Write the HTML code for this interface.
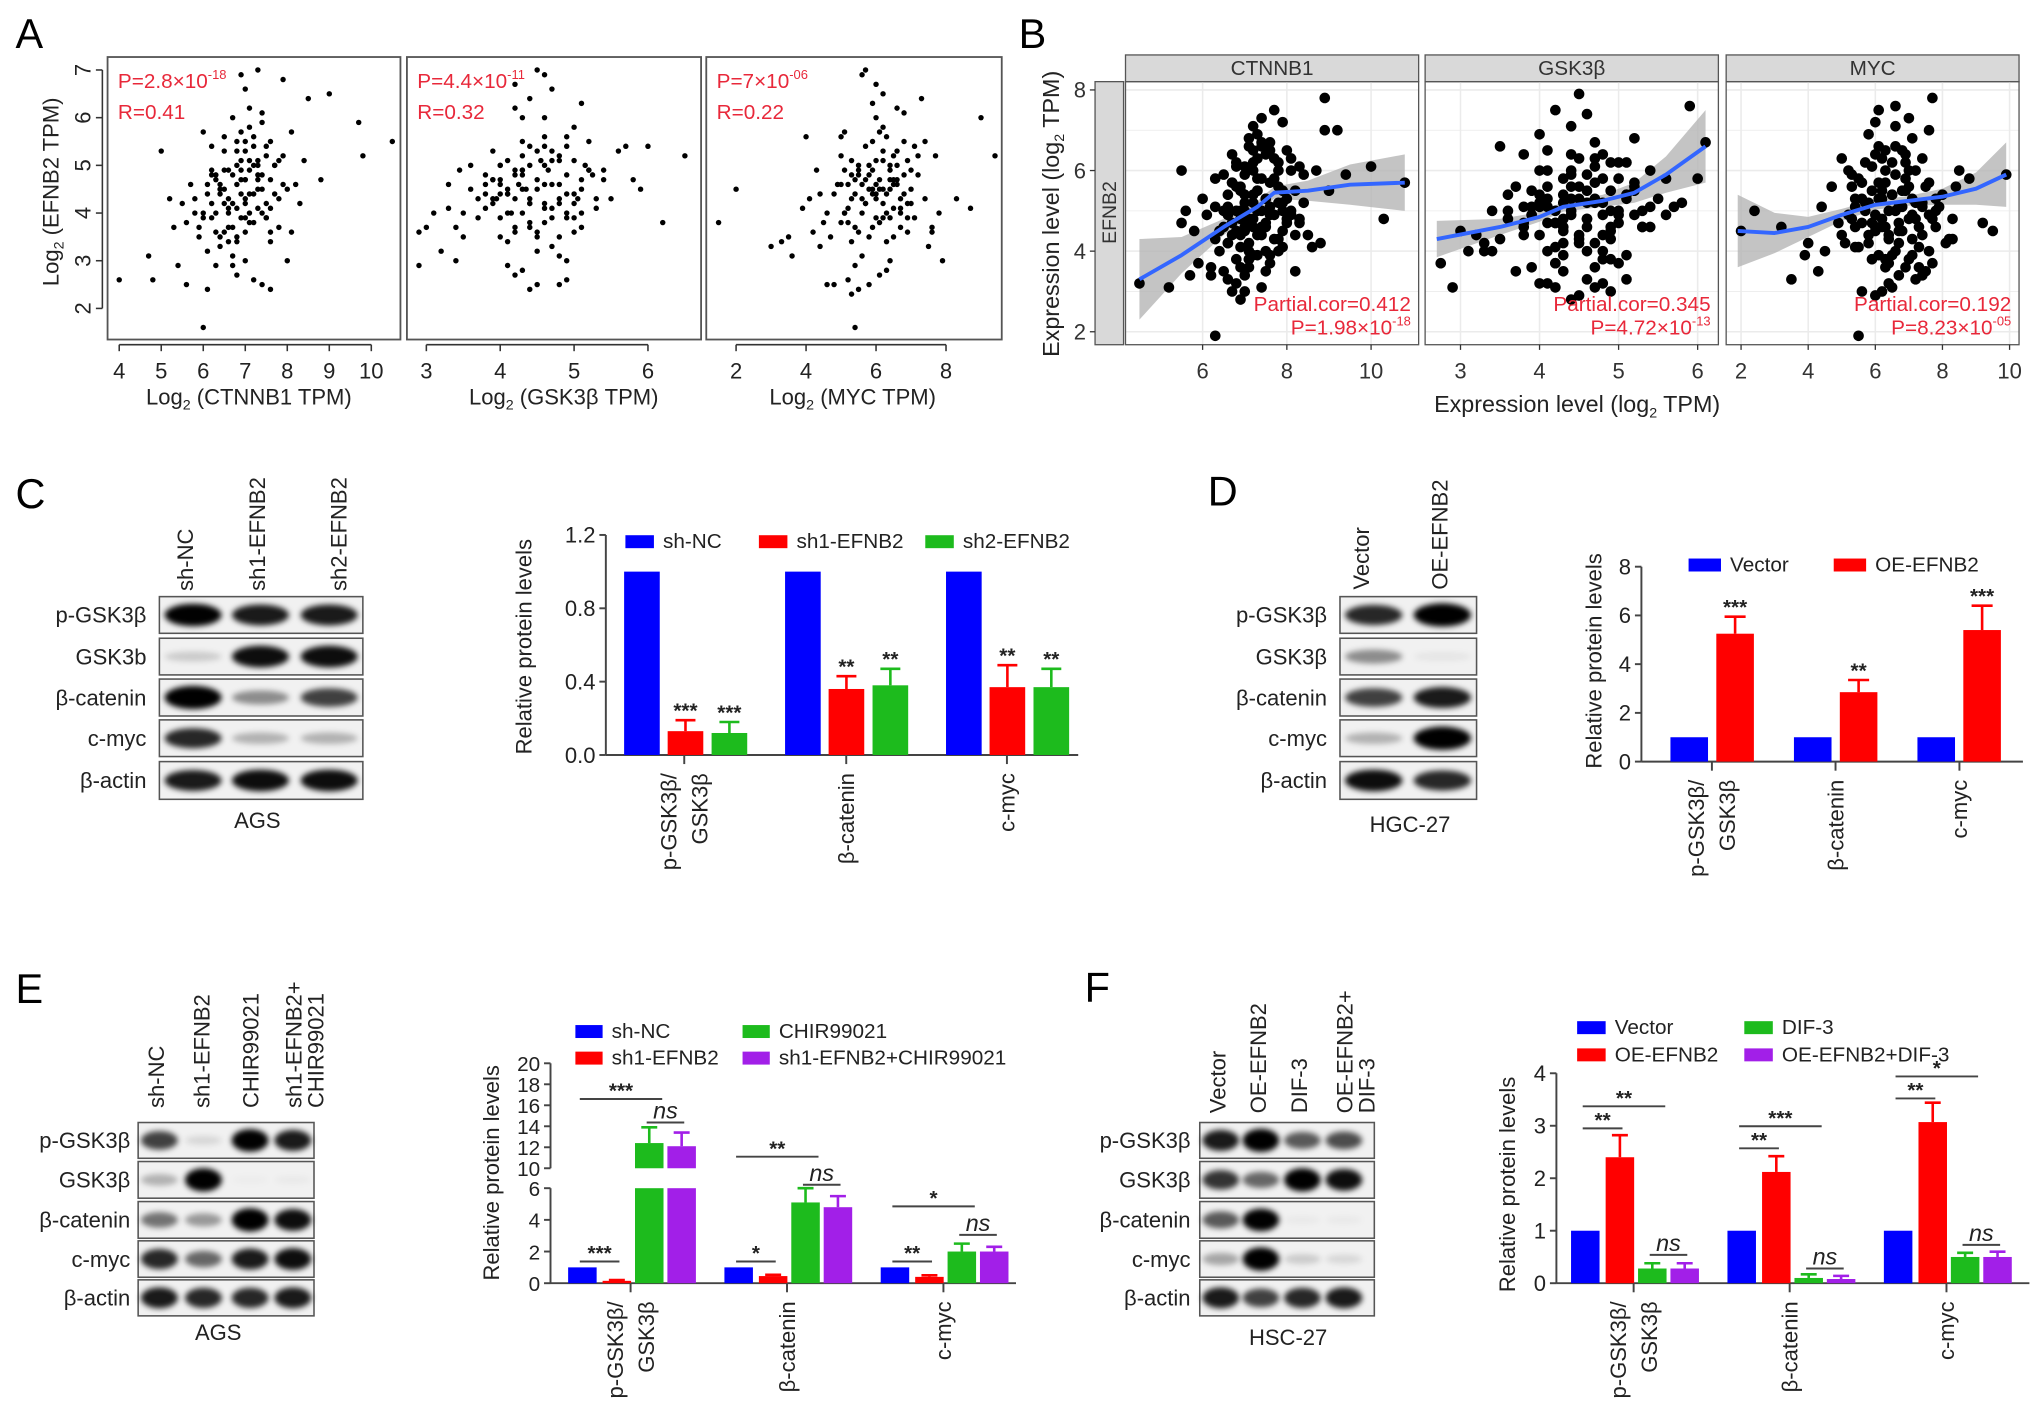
<!DOCTYPE html>
<html><head><meta charset="utf-8"><title>Figure</title>
<style>
html,body{margin:0;padding:0;background:#fff;}
svg{display:block;font-family:"Liberation Sans",Arial,sans-serif;}
</style></head>
<body>
<svg id="fig" width="2032" height="1422" viewBox="0 0 1568 1097.3" preserveAspectRatio="none" xmlns="http://www.w3.org/2000/svg">
<defs>
<filter id="blur" x="-50%" y="-50%" width="200%" height="200%"><feGaussianBlur stdDeviation="2.2"/></filter>
</defs>
</svg>
<script>
// ===== DATA =====
const a1X=[6.8,7.1,6.5,7.3,6.9,7.6,6.2,7.0,6.6,7.4,5.9,7.2,6.7,7.8,6.4,7.0,6.1,7.5,6.8,7.3,6.3,7.7,6.9,5.8,7.1,6.6,8.0,6.0,7.4,6.5,7.2,6.8,7.9,6.2,7.0,6.7,7.6,5.6,6.9,7.3,6.4,8.1,6.6,7.1,5.7,7.5,6.3,7.0,6.8,7.8,6.1,7.2,6.5,7.4,6.9,5.5,7.7,6.7,7.0,6.2,8.2,6.6,7.3,5.9,7.1,6.4,7.6,6.8,8.3,6.0,7.4,5.3,6.7,7.9,4.7,6.9,7.2,4.8,8.4,5.0,6.3,9.0,5.2,7.5,9.7,4.0,10.5,5.6,8.0,6.0,9.8,7.0,8.5,6.1,8.8,7.6,5.4,8.1,6.5,7.3,
6.6,7.0,7.3,6.8,7.5,6.4,7.1,6.9,7.7,6.2,7.2,6.7,7.4,6.5,7.0,6.3,7.6,6.8,7.1,6.0,7.3,6.6,7.9,6.4,7.0,6.9,7.5,6.1,7.2,6.7,7.8,6.5,7.4,6.3,7.1,5.8,6.8,7.6,6.2,7.0];
const a1Y=[4.6,4.9,4.2,5.1,4.4,4.7,3.9,5.3,4.0,4.5,3.7,5.6,4.8,4.3,4.4,3.9,4.6,5.4,5.0,4.1,3.6,5.0,4.7,4.3,5.8,3.4,4.5,4.0,5.9,4.9,3.8,3.5,5.2,5.4,4.3,6.0,3.6,3.8,5.1,4.8,3.3,5.7,4.1,6.2,4.6,4.2,4.8,3.0,5.5,3.7,3.2,4.4,5.3,6.1,3.9,4.2,5.0,2.9,6.6,4.9,4.6,3.7,5.0,3.5,4.0,4.5,3.4,2.7,4.2,5.7,2.5,3.7,3.1,6.8,3.1,6.9,2.6,2.6,5.1,5.3,2.9,6.5,4.3,3.9,5.9,2.6,5.5,2.5,3.0,1.6,5.2,4.7,6.4,2.4,4.7,2.4,2.9,3.6,5.6,7.0,
4.3,4.7,4.5,4.1,5.2,4.6,3.8,4.9,4.4,4.2,5.0,3.7,4.8,4.5,5.5,4.0,4.1,5.3,4.4,3.9,4.7,4.9,4.6,3.5,4.2,5.7,3.9,4.4,5.4,4.2,5.1,3.6,4.0,4.7,5.1,4.0,3.4,5.5,4.8,3.6];
const a2X=[4.5,4.2,4.8,4.0,4.6,5.0,4.3,4.7,3.9,4.4,5.1,4.1,4.9,4.6,3.8,4.3,5.2,4.5,4.0,4.8,3.7,4.4,5.0,4.2,4.7,3.6,4.9,4.3,5.3,4.1,4.6,3.9,5.1,4.4,4.8,3.5,4.2,5.4,4.5,4.0,4.7,3.8,5.0,4.3,4.9,3.4,4.6,5.2,4.1,4.4,3.7,4.8,5.5,4.2,3.3,4.5,5.0,3.9,4.7,3.2,5.3,4.3,3.6,4.9,3.1,5.6,4.0,4.6,3.0,5.1,4.4,2.9,5.8,4.2,3.5,5.7,4.8,6.0,3.4,6.5,4.5,6.2,3.3,5.9,2.9,4.1,5.4,4.4,3.45,4.9,5.25,3.8,4.35,5.05,4.15,4.65,3.95,4.55,5.15,4.25,
4.4,4.7,4.1,4.9,4.3,4.6,4.0,5.1,4.5,4.2,4.8,3.9,4.6,5.0,4.3,4.7,4.1,4.4,5.2,3.8,4.5,4.9,4.2,4.6,4.0,4.8,4.3,5.0,4.5,4.1,4.7,3.9,4.4,4.9,4.2,4.6,5.1,4.3,4.8,4.0];
const a2Y=[4.5,4.8,4.2,4.6,5.0,4.4,4.0,5.3,4.3,3.8,4.7,5.1,3.9,4.6,4.1,5.5,4.9,3.6,4.4,5.2,3.9,4.3,5.8,3.7,4.1,4.5,5.6,4.9,4.3,3.4,6.0,4.7,3.7,5.4,3.5,4.0,6.2,4.9,3.2,5.0,3.3,4.8,5.1,6.0,3.0,3.7,4.2,5.5,2.9,6.4,4.3,3.1,4.3,2.7,4.6,2.5,3.6,5.3,6.6,3.2,4.1,2.8,5.0,2.6,4.0,5.3,3.5,6.9,3.7,6.3,2.4,2.9,4.7,6.7,3.5,5.4,2.5,5.4,3.0,5.2,7.0,3.8,4.1,4.5,3.6,4.4,4.7,4.2,4.9,4.4,4.8,4.6,4.5,4.3,4.0,4.9,4.3,5.1,5.0,4.6,
4.2,4.6,4.4,4.0,4.9,3.8,5.0,4.5,5.3,3.6,4.3,4.7,5.6,3.9,4.8,5.1,4.0,3.7,4.9,4.4,4.7,5.4,4.9,4.1,3.9,4.6,5.2,4.2,3.5,4.5,3.9,4.2,5.0,4.8,4.3,5.4,4.0,4.5,5.1,4.7];
const a3X=[6.0,5.6,6.4,5.2,6.8,5.8,6.2,5.4,6.6,5.0,7.0,5.9,6.3,4.8,6.1,5.5,7.2,5.7,6.5,4.6,6.9,5.3,6.0,7.4,5.1,6.7,4.4,5.9,7.6,6.2,4.9,5.6,7.1,6.4,4.3,7.8,5.4,6.0,4.7,6.6,7.5,5.2,4.1,6.3,7.7,5.0,5.8,4.5,7.3,6.1,3.9,5.5,7.9,6.8,4.2,5.7,3.6,6.5,7.4,4.0,5.3,3.3,6.9,5.1,3.0,7.6,4.8,5.6,3.5,6.2,8.3,4.6,5.9,8.7,5.0,2.0,6.4,9.4,1.5,5.4,9.0,5.2,6.6,4.4,7.0,5.8,6.1,5.5,6.3,6.7,5.7,6.0,6.5,5.3,6.9,5.1,6.2,5.9,7.1,6.4,
5.8,6.2,5.5,6.6,6.0,5.3,6.4,5.7,6.8,5.1,6.1,5.9,6.5,5.4,6.3,7.0,5.6,6.7,5.2,6.0,6.9,5.5,6.2,5.8,6.4,5.0,6.6,5.7,6.1,7.2,5.3,6.5,5.9,6.3,5.6,6.8,6.0,5.4,6.2,6.7];
const a3Y=[4.6,4.3,4.9,4.1,4.4,5.0,3.9,4.7,5.3,3.8,4.5,5.5,4.0,4.4,5.7,3.6,4.8,4.2,3.5,4.0,5.1,3.4,6.0,4.3,4.9,3.7,3.3,6.3,3.6,5.8,4.6,3.1,5.4,3.0,4.9,4.0,2.9,6.7,3.5,6.2,3.3,2.6,4.3,2.8,5.2,5.6,2.5,3.8,6.4,2.7,4.1,2.4,3.0,6.1,3.6,7.0,3.1,4.7,5.5,5.6,2.3,3.4,3.9,5.7,3.3,3.7,2.5,6.9,3.5,6.5,4.3,2.5,4.5,4.1,5.2,4.5,5.0,5.2,3.8,1.6,6.0,4.6,4.7,4.4,4.2,4.8,4.5,4.9,4.4,4.1,4.7,4.3,4.6,4.8,4.2,4.0,5.1,4.4,3.9,4.5,
4.5,4.2,4.8,4.6,5.1,4.3,3.9,5.4,4.8,4.0,4.7,3.7,5.2,4.4,5.6,4.9,4.0,4.3,3.8,4.4,3.6,5.0,5.3,3.5,4.7,4.6,5.0,4.2,3.8,5.2,5.1,4.1,4.9,3.4,4.6,5.5,3.9,3.7,4.5,4.0];
const aStatP=["2.8×10","4.4×10","7×10"];
const aStatExp=["-18","-11","-06"];
const aStatR=["0.41","0.32","0.22"];
const aXTicks1=[4,5,6,7,8,9,10];
const aXTicks2=[3,4,5,6];
const aXTicks3=[2,4,6,8];
const aYTicks=[2,3,4,5,6,7];

const b1X=[7.2,7.5,6.9,7.8,7.1,7.4,6.7,8.0,7.3,6.6,7.6,7.0,8.2,6.8,7.7,7.2,6.5,7.9,7.4,6.9,8.1,7.1,6.4,7.6,7.3,8.3,6.7,7.0,7.8,6.3,7.5,8.0,6.8,7.2,6.6,7.9,8.4,6.2,7.4,7.1,6.9,8.5,6.5,7.7,6.1,7.3,8.2,6.8,7.0,8.6,6.0,7.6,6.4,7.8,5.9,8.8,7.2,6.6,8.1,5.8,7.5,6.3,8.9,7.0,5.7,7.4,8.3,6.7,5.6,7.1,7.9,6.2,5.5,7.6,8.7,6.9,5.5,6.3,9.0,5.2,4.5,9.4,10.0,10.3,10.8,8.9,9.2,6.3,7.3,7.7,8.4,7.0,6.6,8.0,7.3,6.8,7.5,7.1,7.8,6.9,7.4,7.2,8.1,6.5,7.6,7.0,7.3,6.7,7.9,7.2,
7.0,7.4,6.8,7.7,7.2,6.6,7.9,7.1,7.5,6.9,8.1,7.3,6.7,7.6,7.0,8.0,6.5,7.4,7.8,7.2,6.8,7.5,7.1,8.2,6.9,7.3,7.7,6.6,7.0,7.9,7.4,6.8,7.6,7.2,8.3,6.7,7.1,7.5,6.9,7.8];
const b1Y=[5.2,4.6,5.0,5.6,4.2,5.8,4.7,5.3,3.9,5.4,4.9,6.1,4.4,3.8,6.3,4.8,5.9,4.1,6.6,4.4,5.0,3.6,4.5,5.7,6.9,4.7,6.4,3.4,6.0,5.1,4.0,6.5,3.2,7.1,4.2,5.5,5.9,3.6,3.1,6.8,5.6,4.4,3.5,7.5,4.9,5.0,3.5,6.2,3.0,4.1,5.3,6.7,4.0,4.3,3.7,4.2,6.5,3.3,6.3,4.5,3.5,5.8,7.0,4.6,3.4,7.3,6.1,3.0,5.0,3.8,7.2,3.4,4.7,3.9,6.0,2.8,6.0,1.9,5.5,3.1,3.2,5.9,6.1,4.8,5.7,7.8,7.0,4.3,5.5,4.9,5.2,5.0,5.1,4.7,5.8,4.5,5.3,4.8,5.2,5.5,4.6,5.4,4.9,4.6,5.1,5.2,4.4,5.7,5.0,6.0,
4.5,5.0,5.6,4.3,6.2,4.9,5.2,3.8,6.4,4.1,6.0,5.5,4.4,3.7,5.9,4.8,5.0,6.7,4.0,4.6,6.1,5.3,4.0,5.5,3.6,6.3,5.8,4.2,5.4,4.5,4.4,5.0,6.5,3.9,4.8,5.7,6.6,4.7,4.8,6.2];
const b2X=[4.4,4.6,4.2,4.8,4.0,4.5,4.7,4.3,4.9,4.1,4.6,3.9,5.0,4.4,4.2,5.1,3.8,4.7,4.5,5.2,4.0,4.3,4.8,3.7,5.3,4.6,4.1,4.9,3.6,5.0,4.4,5.4,3.9,4.2,5.1,3.5,4.7,5.5,4.0,4.5,3.4,5.2,4.8,3.8,4.3,5.6,3.3,4.6,5.0,3.7,4.1,5.3,3.2,4.9,5.7,3.6,4.4,3.1,5.4,4.2,3.0,5.8,4.7,3.5,5.1,2.9,6.0,4.0,2.75,3.4,5.9,5.6,4.5,3.8,4.3,4.9,3.6,5.2,6.1,3.3,4.6,4.1,4.8,4.4,4.0,4.7,4.3,5.0,4.5,3.9,4.2,4.8,4.6,5.1,4.1,4.4,3.8,4.9,4.3,4.7,
4.3,4.6,4.1,4.9,4.4,3.9,4.7,5.2,4.2,4.5,5.0,3.8,4.8,4.3,5.3,4.0,4.6,5.1,4.4,4.9,4.1,4.7,5.4,4.2,4.5,3.9,5.0,4.8,4.3,4.6,4.0,5.2,4.4,4.7,4.1,5.1,4.5,4.9,4.2,4.8];
const b2Y=[5.0,5.5,4.7,5.8,5.2,4.3,6.1,5.4,4.6,4.0,5.9,5.1,4.9,6.4,3.7,5.3,4.4,6.7,4.2,5.7,6.0,3.5,4.4,5.6,5.0,3.3,6.5,3.8,4.8,6.2,7.1,4.6,3.6,7.5,3.9,4.3,3.1,5.3,6.9,2.9,5.0,6.8,3.2,6.4,4.2,5.8,4.0,7.4,3.7,3.5,3.2,4.6,4.4,3.0,5.1,5.4,2.8,4.0,6.0,3.1,4.5,5.2,6.3,6.6,3.3,3.1,5.8,3.2,3.7,4.0,7.6,4.9,7.9,4.6,5.2,5.5,5.0,5.6,6.7,4.2,4.8,5.3,4.9,5.6,5.1,5.2,4.5,4.7,5.3,4.9,5.0,5.2,4.8,5.4,4.7,4.9,5.1,5.0,4.6,5.3,
4.8,5.2,5.6,4.5,6.0,4.9,4.2,5.5,4.1,6.3,5.0,4.7,3.8,5.8,4.6,5.4,4.0,6.2,5.3,4.3,6.0,5.7,5.1,3.7,4.4,5.5,5.8,6.4,3.9,4.6,4.4,4.9,5.9,3.6,5.1,5.4,5.6,6.2,4.7,4.0];
const b3X=[6.4,6.8,6.0,7.2,5.8,6.6,7.0,6.2,7.4,5.6,6.5,7.6,6.1,5.4,6.9,7.8,6.3,5.9,7.1,5.2,6.7,8.0,6.0,7.3,5.5,6.4,8.2,5.7,7.5,6.6,5.0,7.0,8.3,6.2,5.3,7.7,6.8,4.9,7.2,5.8,8.4,6.5,5.1,7.9,6.1,4.7,7.4,5.6,6.9,4.5,8.1,6.3,5.4,7.6,4.3,6.7,8.5,5.0,7.1,4.0,6.0,7.8,5.3,3.9,6.6,8.3,4.4,7.3,5.8,3.5,6.2,8.8,5.2,7.0,3.2,6.4,9.2,5.5,7.7,9.5,2.0,2.4,6.3,7.6,5.4,6.1,9.9,5.9,6.8,6.5,7.2,5.7,6.9,6.2,6.6,7.1,6.0,6.7,6.3,7.4,
6.3,6.7,5.9,7.1,6.5,5.6,6.9,6.1,7.4,5.3,6.6,7.7,6.0,6.4,7.2,5.8,6.8,7.5,5.5,6.2,7.0,6.6,5.7,7.3,6.1,7.8,6.4,5.4,6.9,7.1,6.0,6.5,7.6,5.9,6.3,7.0,5.6,6.7,7.4,6.2];
const b3Y=[5.0,5.5,4.6,5.2,4.2,5.9,4.8,6.3,4.4,5.3,3.9,5.7,6.6,4.6,3.6,5.0,6.0,3.8,6.8,4.9,3.4,5.4,7.2,4.1,5.8,3.2,4.3,6.2,3.5,7.6,4.4,6.0,4.8,3.0,5.6,3.7,6.5,4.7,3.3,6.9,5.6,3.1,4.2,5.1,7.5,5.6,3.4,3.0,6.4,4.0,4.2,3.8,5.3,7.0,3.5,4.5,6.0,6.3,3.9,4.2,2.9,4.6,4.8,3.9,7.1,4.3,5.1,3.6,5.2,3.3,5.5,5.8,6.0,7.3,4.6,4.4,4.7,1.9,7.8,4.5,4.5,5.0,6.5,4.9,4.1,5.3,5.9,4.7,5.1,5.4,4.8,5.2,5.5,4.6,5.0,5.3,4.9,4.7,5.7,5.1,
4.6,5.1,5.5,4.3,6.2,4.7,5.8,3.9,5.2,5.9,4.0,4.8,6.4,3.7,6.0,4.4,4.5,5.6,4.1,5.3,3.8,6.6,5.0,4.6,5.7,5.3,4.3,5.1,6.2,4.9,4.5,5.4,4.0,6.1,3.6,5.6,5.7,4.2,6.3,4.8];
const b1FitX=[4.5,5.5,6.5,7.3,7.7,8.5,9.5,10.8];
const b1FitY=[3.3,3.9,4.6,5.1,5.45,5.5,5.65,5.7];
const b1FitSe=[1.0,0.45,0.2,0.15,0.15,0.25,0.5,0.7];
const b2FitX=[2.7,3.5,4.0,4.3,4.8,5.2,5.6,6.1];
const b2FitY=[4.3,4.6,4.85,5.1,5.25,5.45,5.9,6.6];
const b2FitSe=[0.45,0.2,0.12,0.12,0.15,0.25,0.45,0.9];
const b3FitX=[1.9,3,4,5,6,7,8,9,9.9];
const b3FitY=[4.5,4.45,4.6,4.9,5.15,5.25,5.35,5.55,5.9];
const b3FitSe=[0.9,0.5,0.25,0.15,0.12,0.12,0.2,0.4,0.8];
const bGenes=["CTNNB1","GSK3β","MYC"];
const bCor=["0.412","0.345","0.192"];
const bPval=["1.98×10","4.72×10","8.23×10"];
const bPexp=["-18","-13","-05"];
const bXTicks1=[6,8,10];
const bXTicks2=[3,4,5,6];
const bXTicks3=[2,4,6,8,10];
const bYTicks=[2,4,6,8];

const rowLabelsC=["p-GSK3β","GSK3b","β-catenin","c-myc","β-actin"];
const rowLabels=["p-GSK3β","GSK3β","β-catenin","c-myc","β-actin"];
const blotC=[[0.95,0.85,0.85],[0.15,0.9,0.9],[1,0.4,0.7],[0.8,0.25,0.25],[0.85,0.9,0.9]];
const blotD=[[0.8,1],[0.4,0.05],[0.7,0.85],[0.25,1],[0.9,0.8]];
const blotE=[[0.7,0.1,0.95,0.85],[0.25,1,0.02,0.03],[0.5,0.35,1,0.9],[0.8,0.55,0.85,0.9],[0.85,0.8,0.8,0.85]];
const blotF=[[0.85,1,0.6,0.65],[0.75,0.55,1,0.9],[0.6,0.95,0.03,0.03],[0.3,1,0.15,0.1],[0.85,0.7,0.8,0.85]];

const groupNames=["p-GSK3β/|GSK3β","β-catenin","c-myc"];
const cSeries=["sh-NC","sh1-EFNB2","sh2-EFNB2"];
const cValues=[[1,1,1],[0.13,0.36,0.37],[0.12,0.38,0.37]];
const cErrors=[[0,0,0],[0.06,0.07,0.12],[0.06,0.09,0.1]];
const cStars=[["","",""],["***","**","**"],["***","**","**"]];
const cTicks=[0,0.4,0.8,1.2];
const dSeries=["Vector","OE-EFNB2"];
const dValues=[[1,1,1],[5.25,2.85,5.4]];
const dErrors=[[0,0,0],[0.7,0.5,1.0]];
const dStars=[["","",""],["***","**","***"]];
const dTicks=[0,2,4,6,8];
const eSeries=["sh-NC","sh1-EFNB2","CHIR99021","sh1-EFNB2+CHIR99021"];
const eValues=[[1,1,1],[0.15,0.45,0.4],[12.4,5.1,2.0],[12.1,4.8,2.0]];
const eErrors=[[0,0,0],[0.05,0.08,0.1],[1.5,0.9,0.5],[1.3,0.7,0.3]];
const eTicksLow=[0,2,4,6];
const eTicksHigh=[10,12,14,16,18,20];
const eBrackets=[[0,0,1,1.37,"***"],[0,0,2,16.6,"***"],[0,2,3,14.36,"ns"],[1,0,1,1.37,"*"],[1,0,2,11.1,"**"],[1,2,3,6.7,"ns"],[2,0,1,1.37,"**"],[2,0,2,4.85,"*"],[2,2,3,3.05,"ns"]];
const fSeries=["Vector","OE-EFNB2","DIF-3","OE-EFNB2+DIF-3"];
const fValues=[[1,1,1],[2.4,2.12,3.07],[0.28,0.1,0.5],[0.28,0.08,0.5]];
const fErrors=[[0,0,0],[0.42,0.3,0.37],[0.1,0.07,0.08],[0.1,0.06,0.1]];
const fTicks=[0,1,2,3,4];
const fBrackets=[[0,0,1,2.95,"**"],[0,0,2,3.37,"**"],[0,2,3,0.54,"ns"],[1,0,1,2.57,"**"],[1,0,2,2.99,"***"],[1,2,3,0.28,"ns"],[2,0,1,3.52,"**"],[2,0,2,3.94,"*"],[2,2,3,0.73,"ns"]];

// ===== HELPERS =====
const NS='http://www.w3.org/2000/svg';
const svg=document.getElementById('fig');
const COLORS=["#0000ff","#ff0000","#1dbb1d","#a21fe8"];
function mk(tag,attrs,parent){const e=document.createElementNS(NS,tag);for(const k in attrs)e.setAttribute(k,attrs[k]);(parent||svg).appendChild(e);return e;}
function grp(name){const g=mk('g',{});return g;}
function tx(p,str,x,y,o){const e=mk('text',Object.assign({x:x,y:y,'font-size':16,fill:'#222'},o||{}),p);e.innerHTML=str;return e;}
function rtx(p,str,x,y,o){const e=tx(p,str,x,y,Object.assign({transform:'rotate(-90 '+x+' '+y+')'},o||{}));return e;}
function ln(p,x1,y1,x2,y2,st,w){return mk('line',{x1:x1,y1:y1,x2:x2,y2:y2,stroke:st||'#333','stroke-width':w||1.3},p);}

[["A",12,37],["B",786,37],["C",12,392],["D",932,390],["E",12,774],["F",837,773]].forEach(function(L){
  const t=tx(svg,L[0],L[1],L[2],{'font-size':32,fill:'#000'});
  
  
});

// ===== PANEL A =====
(function(){
  const g=grp('panel-a-scatter');
  const yA=v=>238-(v-2)*36.8;
  const boxes=[[83,309],[314,541],[545,773]];
  const xs=[v=>92+(v-4)*32.42, v=>329+(v-3)*57, v=>568+(v-2)*27];
  const dX=[a1X,a2X,a3X], dY=[a1Y,a2Y,a3Y];
  const ticks=[aXTicks1,aXTicks2,aXTicks3];
  const titles=["Log<tspan font-size='11' dy='4'>2</tspan><tspan dy='-4'> (CTNNB1 TPM)</tspan>","Log<tspan font-size='11' dy='4'>2</tspan><tspan dy='-4'> (GSK3β TPM)</tspan>","Log<tspan font-size='11' dy='4'>2</tspan><tspan dy='-4'> (MYC TPM)</tspan>"];
  const tcx=[192,435,658];
  for(let i=0;i<3;i++){
    const b=mk('rect',{x:boxes[i][0],y:44,width:boxes[i][1]-boxes[i][0],height:218,fill:'none',stroke:'#555','stroke-width':1.4},g);
    
    
    const n=Math.min(dX[i].length,dY[i].length);
    for(let k=0;k<n;k++){
      const c=mk('circle',{cx:xs[i](dX[i][k]),cy:yA(dY[i][k]),r:2.1,fill:'#000'},g);
      
      
    }
    const ax=ln(g,xs[i](ticks[i][0]),266,xs[i](ticks[i][ticks[i].length-1]),266,'#333',1.2);
    
    
    ticks[i].forEach(function(t){
      ln(g,xs[i](t),266,xs[i](t),271,'#333',1.2);
      const tl=tx(g,String(t),xs[i](t),292,{'font-size':17,'text-anchor':'middle'});
      
      
    });
    const xt=tx(g,titles[i],tcx[i],312,{'font-size':17,'text-anchor':'middle'});
    
    
    const s1=tx(g,"P="+aStatP[i]+"<tspan font-size='10' dy='-7'>"+aStatExp[i]+"</tspan>",boxes[i][0]+8,68,{'font-size':16,fill:'#e8283a'});
    
    
    const s2=tx(g,"R="+aStatR[i],boxes[i][0]+8,92,{'font-size':16,fill:'#e8283a'});
    
    
  }
  const ya=ln(g,79,yA(2),79,yA(7),'#333',1.2);
  
  
  aYTicks.forEach(function(t){
    ln(g,74,yA(t),79,yA(t),'#333',1.2);
    const tl=rtx(g,String(t),70,yA(t),{'font-size':17,'text-anchor':'middle'});
    
    
  });
  const yt=rtx(g,"Log<tspan font-size='11' dy='4'>2</tspan><tspan dy='-4'> (EFNB2 TPM)</tspan>",45,148,{'font-size':17,'text-anchor':'middle'});
  
  
})();

// ===== PANEL B =====
(function(){
  const g=grp('panel-b-correlation');
  const yB=v=>256-(v-2)*31.1;
  const pans=[[868.5,1094.7],[1099.7,1326],[1332,1558]];
  const xs=[v=>928+(v-6)*32.5, v=>1127+(v-3)*61, v=>1343.5+(v-2)*25.9];
  const dX=[b1X,b2X,b3X], dY=[b1Y,b2Y,b3Y];
  const fX=[b1FitX,b2FitX,b3FitX], fY=[b1FitY,b2FitY,b3FitY], fS=[b1FitSe,b2FitSe,b3FitSe];
  const ticks=[bXTicks1,bXTicks2,bXTicks3];
  const ls=mk('rect',{x:845,y:63,width:22,height:203,fill:'#d9d9d9',stroke:'#555','stroke-width':1},g);
  
  
  const lst=rtx(g,"EFNB2",861,164,{'font-size':15,'text-anchor':'middle',fill:'#333'});
  
  
  for(let i=0;i<3;i++){
    const x0=pans[i][0],x1=pans[i][1];
    const st=mk('rect',{x:x0,y:42.4,width:x1-x0,height:20.6,fill:'#d9d9d9',stroke:'#555','stroke-width':1},g);
    
    
    const stt=tx(g,bGenes[i],(x0+x1)/2,58,{'font-size':16,'text-anchor':'middle',fill:'#333'});
    
    
    const clipId='clipB'+i;
    const cp=mk('clipPath',{id:clipId},g);
    mk('rect',{x:x0,y:63,width:x1-x0,height:203},cp);
    const pg=mk('g',{'clip-path':'url(#'+clipId+')'},g);
    for(let v=2;v<=8;v+=1){ln(pg,x0,yB(v),x1,yB(v),'#ebebeb',v%2===0?1.2:0.6);}
    ticks[i].forEach(function(t){ln(pg,xs[i](t),63,xs[i](t),266,'#ebebeb',1.2);});
    let up=[],dn=[];
    for(let k=0;k<fX[i].length;k++){up.push(xs[i](fX[i][k])+','+yB(fY[i][k]+fS[i][k]));dn.unshift(xs[i](fX[i][k])+','+yB(fY[i][k]-fS[i][k]));}
    const rb=mk('polygon',{points:up.concat(dn).join(' '),fill:'#b5b5b5','fill-opacity':0.8},pg);
    
    
    const n=Math.min(dX[i].length,dY[i].length);
    for(let k=0;k<n;k++){
      const c=mk('circle',{cx:xs[i](dX[i][k]),cy:yB(dY[i][k]),r:4.1,fill:'#000'},pg);
      
      
    }
    let d='';
    for(let k=0;k<fX[i].length;k++){d+=(k?' L':'M')+xs[i](fX[i][k])+' '+yB(fY[i][k]);}
    const fl=mk('path',{d:d,fill:'none',stroke:'#3366ff','stroke-width':3,'stroke-linejoin':'round'},pg);
    
    
    const bx=mk('rect',{x:x0,y:63,width:x1-x0,height:203,fill:'none',stroke:'#555','stroke-width':1},g);
    
    
    ticks[i].forEach(function(t){
      ln(g,xs[i](t),266,xs[i](t),270,'#333',1);
      const tl=tx(g,String(t),xs[i](t),292,{'font-size':17,'text-anchor':'middle',fill:'#333'});
      
      
    });
    const a1=tx(g,"Partial.cor="+bCor[i],x1-6,240,{'font-size':16,'text-anchor':'end',fill:'#e8283a'});
    
    
    const a2=tx(g,"P="+bPval[i]+"<tspan font-size='10' dy='-7'>"+bPexp[i]+"</tspan>",x1-6,258,{'font-size':16,'text-anchor':'end',fill:'#e8283a'});
    
    
  }
  bYTicks.forEach(function(t){
    ln(g,841,yB(t),845,yB(t),'#333',1);
    const tl=tx(g,String(t),838,yB(t)+6,{'font-size':17,'text-anchor':'end',fill:'#333'});
    
    
  });
  const yt=rtx(g,"Expression level (log<tspan font-size='11' dy='4'>2</tspan><tspan dy='-4'> TPM)</tspan>",817,165,{'font-size':18,'text-anchor':'middle'});
  
  
  const xt=tx(g,"Expression level (log<tspan font-size='11' dy='4'>2</tspan><tspan dy='-4'> TPM)</tspan>",1217,318,{'font-size':18,'text-anchor':'middle'});
  
  
})();

// ===== BLOTS =====
function drawBlot(name,x0,x1,rows,laneX,laneLines,labelsRow,labelRight,intens,cellName,cellY,laneBottom){
  const g=grp(name);
  const bw=(x1-x0)/laneX.length;
  for(let r=0;r<rows.length;r++){
    const y0=rows[r][0],y1=rows[r][1];
    const bg=mk('rect',{x:x0,y:y0,width:x1-x0,height:y1-y0,fill:'#f1f1f1',stroke:'#555','stroke-width':1.2},g);
    
    
    for(let l=0;l<laneX.length;l++){
      const v=intens[r][l];
      const e=mk('ellipse',{cx:laneX[l],cy:(y0+y1)/2,rx:bw*0.42,ry:3+6*v,fill:'#000','fill-opacity':Math.min(1,v*1.05),filter:'url(#blur)'},g);
      
      
    }
    const rl=tx(g,labelsRow[r],labelRight,(y0+y1)/2+6,{'font-size':17,'text-anchor':'end'});
    
    
  }
  for(let l=0;l<laneLines.length;l++){
    const lines=laneLines[l][0].split('|');
    for(let q=0;q<lines.length;q++){
      const lx=laneLines[l][1]+6+(q-(lines.length-1)/2)*17;
      const t=rtx(g,lines[q],lx,laneBottom,{'font-size':17,'text-anchor':'start',fill:'#222'});
      
      
    }
  }
  const cl=tx(g,cellName[0],cellName[1],cellY,{'font-size':17,'text-anchor':'middle'});
  
  
}
const rowsCD=[[460.4,488.7],[492.5,520.8],[524,552.5],[555.5,583.8],[587.7,616.8]];
const rowsEF=[[866.2,893.8],[896.3,924.6],[927.2,955.5],[957.5,985.6],[987.6,1015.4]];
drawBlot('panel-c-blot',123,280,rowsCD,[149,201,254],[["sh-NC",143],["sh1-EFNB2",198.6],["sh2-EFNB2",261.4]],rowLabelsC,113,blotC,["AGS",198.6],639,456);
drawBlot('panel-d-blot',1034,1139.4,rowsCD,[1060,1113],[["Vector",1050.4],["OE-EFNB2",1110.8]],rowLabels,1024,blotD,["HGC-27",1088],642,455);
drawBlot('panel-e-blot',106.6,242.3,rowsEF,[123,157,193,226],[["sh-NC",120.6],["sh1-EFNB2",155.8],["CHIR99021",193.5],["sh1-EFNB2+|CHIR99021",235]],rowLabels,100.5,blotE,["AGS",168.4],1034,855);
drawBlot('panel-f-blot',925.8,1060.5,rowsEF,[942,973,1005,1037],[["Vector",939.8],["OE-EFNB2",971],["DIF-3",1002.7],["OE-EFNB2+|DIF-3",1046]],rowLabels,918.7,blotF,["HSC-27",994],1038,859);

// ===== BAR CHARTS =====
function barChart(cfg){
  const g=grp(cfg.name);
  const Y=cfg.y;
  const xa=ln(g,cfg.axisX,Y(0),cfg.axisEnd,Y(0),'#444',1.5);
  
  
  cfg.axisSegs.forEach(function(s){
    const ya=ln(g,cfg.axisX,Y(s[0]),cfg.axisX,Y(s[1]),'#444',1.5);
    
    
  });
  cfg.ticks.forEach(function(t){
    ln(g,cfg.axisX-5,Y(t),cfg.axisX,Y(t),'#444',1.5);
    const tl=tx(g,cfg.fmt(t),cfg.axisX-8,Y(t)+6,{'font-size':cfg.tickFont||17,'text-anchor':'end'});
    
    
  });
  const yt=rtx(g,"Relative protein levels",cfg.titleX,cfg.titleY,{'font-size':17,'text-anchor':'middle'});
  
  
  const nS=cfg.values.length;
  const gx=(gi,s)=>cfg.g0+gi*cfg.gStep+cfg.offs[s];
  for(let gi=0;gi<3;gi++){
    for(let s=0;s<nS;s++){
      const v=cfg.values[s][gi], e=cfg.errors[s][gi];
      const x=gx(gi,s), w=cfg.bw, col=COLORS[s];
      if(cfg.brk && v>cfg.brk[0]){
        const r1=mk('rect',{x:x,y:Y(cfg.brk[0]),width:w,height:Y(0)-Y(cfg.brk[0]),fill:col},g);
        
        
        const r2=mk('rect',{x:x,y:Y(v),width:w,height:Y(cfg.brk[1])-Y(v),fill:col},g);
        
        
      } else {
        const r=mk('rect',{x:x,y:Y(v),width:w,height:Y(0)-Y(v),fill:col},g);
        
        
      }
      if(e>0){
        const cx=x+w/2;
        const eb=ln(g,cx,Y(v),cx,Y(v+e),col,2);
        
        
        ln(g,cx-w*0.28,Y(v+e),cx+w*0.28,Y(v+e),col,2);
      }
      if(cfg.stars && cfg.stars[s][gi]){
        const st=tx(g,cfg.stars[s][gi],x+w/2,Y(v+e)-2,{'font-size':16,'text-anchor':'middle','font-weight':'bold'});
        
        
      }
    }
    const gc=cfg.groupTick[gi];
    ln(g,gc,Y(0),gc,Y(0)+7,'#444',1.5);
    const lines=groupNames[gi].split('|');
    for(let q=0;q<lines.length;q++){
      const lx=gc+6+(q-(lines.length-1)/2)*24;
      const t=rtx(g,lines[q],lx,Y(0)+14,{'font-size':17,'text-anchor':'end'});
      
      
    }
  }
  if(cfg.brackets){
    cfg.brackets.forEach(function(b){
      const xa1=gx(b[0],b[1])+cfg.bw/2-2, xa2=gx(b[0],b[2])+cfg.bw/2+2+(b[2]-b[1]>1?8:0);
      const yy=Y(b[3]);
      const bl=ln(g,xa1,yy,xa2,yy,'#444',1.5);
      
      
      const isNs=b[4]==='ns';
      const bt=tx(g,b[4],(xa1+xa2)/2,yy-(isNs?3:1),{'font-size':isNs?18:16,'text-anchor':'middle','font-style':isNs?'italic':'normal','font-weight':isNs?'normal':'bold'});
      
      
    });
  }
  cfg.legend.forEach(function(L,i){
    const sq=mk('rect',{x:L[0],y:L[1],width:L[2],height:10,fill:COLORS[i]},g);
    
    
    const lt=tx(g,cfg.series[i],L[0]+L[2]+7,L[1]+10,{'font-size':16});
    
    
  });
}

barChart({name:'panel-c-bar-chart',y:v=>582.6-v*141.5,axisX:467.5,axisEnd:832,axisSegs:[[0,1.2]],ticks:cTicks,fmt:t=>t.toFixed(1),
  titleX:410,titleY:499,values:cValues,errors:cErrors,stars:cStars,series:cSeries,g0:481.6,gStep:124.2,offs:[0,33.6,67.5],bw:27.5,
  groupTick:[528,653,777],legend:[[482.6,413,22],[585.6,413,22],[714,413,22]]});
barChart({name:'panel-d-bar-chart',y:v=>587.7-v*18.8,axisX:1266.6,axisEnd:1561,axisSegs:[[0,8]],ticks:dTicks,fmt:t=>String(t),
  titleX:1236,titleY:510,values:dValues,errors:dErrors,stars:dStars,series:dSeries,g0:1289,gStep:95.3,offs:[0,35.4],bw:29,
  groupTick:[1321,1416.4,1512],legend:[[1303,431,25],[1415,431,25]]});
barChart({name:'panel-e-bar-chart',
  y:function(v){ if(v<=6) return 990.2-v*12.22; if(v<10) return 916.9-(v-6)*3.85; return 901.5-(v-10)*8.1; },
  brk:[6,10],axisX:424.8,axisEnd:784,axisSegs:[[0,6],[10,20]],ticks:eTicksLow.concat(eTicksHigh),fmt:t=>String(t),tickFont:16,
  titleX:385,titleY:905,values:eValues,errors:eErrors,stars:null,series:eSeries,g0:438.4,gStep:120.6,offs:[0,26.6,51.6,76.6],bw:22,
  groupTick:[486.6,607.3,728],brackets:eBrackets,legend:[[444,791,21],[444,811.5,21],[573,791,21],[573,811.5,21]]});
barChart({name:'panel-f-bar-chart',y:v=>990.2-v*40.5,axisX:1201,axisEnd:1566,axisSegs:[[0,4]],ticks:fTicks,fmt:t=>String(t),
  titleX:1169,titleY:914,values:fValues,errors:fErrors,stars:null,series:fSeries,g0:1212.3,gStep:120.7,offs:[0,26.7,51.7,76.7],bw:22,
  groupTick:[1260.6,1381,1502],brackets:fBrackets,legend:[[1217,788,22],[1217,809,22],[1346,788,22],[1346,809,22]]});
</script>
</body></html>
